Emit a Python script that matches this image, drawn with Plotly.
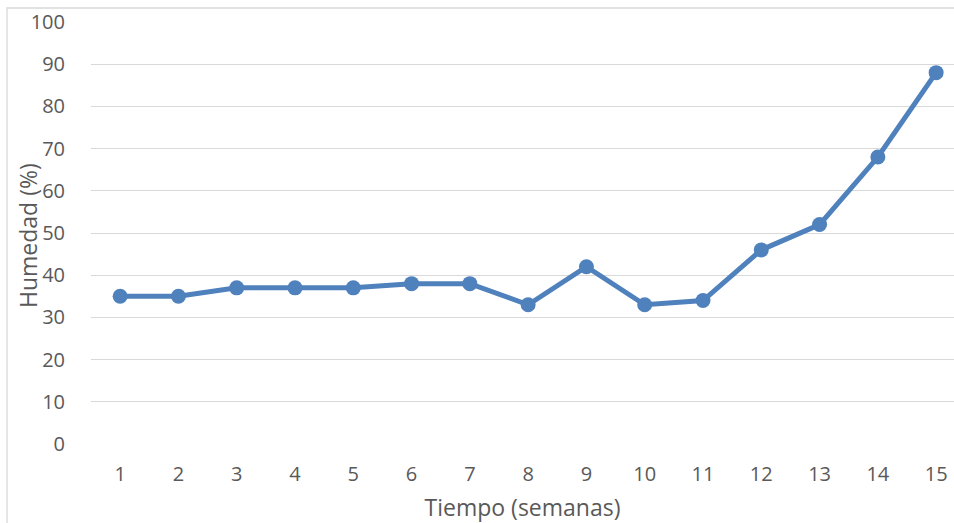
import plotly.graph_objects as go

semanas = list(range(1, 16))
humedad = [35, 35, 37, 37, 37, 38, 38, 33, 42, 33, 34, 46, 52, 68, 88]
y_ticks = list(range(0, 101, 10))

W, H = 954, 523
L, R, T, B = 91, 0, 22, 79

fig = go.Figure()
fig.add_trace(go.Scatter(
    x=semanas, y=humedad, mode="lines+markers",
    line=dict(color="#4F81BD", width=5),
    marker=dict(color="#4F81BD", size=15),
    showlegend=False, cliponaxis=False,
))

font = dict(family="Open Sans, Liberation Sans, sans-serif", color="#595959", size=20)
pw = W - L - R
ph = H - T - B
fig.update_layout(
    width=W, height=H,
    margin=dict(l=L, r=R, t=T, b=B, pad=0),
    paper_bgcolor="white", plot_bgcolor="white",
    font=font,
    xaxis=dict(
        range=[0.5, 0.5 + pw / ((936 - 120) / 14)],
        tickmode="array", tickvals=semanas, ticktext=[str(s) for s in semanas],
        showgrid=False, zeroline=False, showline=False,
        ticks="", ticklabelstandoff=16,
        title=dict(text="Tiempo (semanas)", font=dict(size=23), standoff=14),
    ),
    yaxis=dict(
        range=[0, 100],
        tickmode="array", tickvals=y_ticks,
        showgrid=True, gridcolor="#D9D9D9", gridwidth=1.3,
        zeroline=False, showline=False, ticks="", ticklabelstandoff=25,
    ),
    annotations=[dict(
        text="Humedad (%)", textangle=-90, showarrow=False,
        xref="paper", yref="paper", x=(28 - L) / pw, y=(H - B - 236) / ph,
        xanchor="center", yanchor="middle",
        font=dict(size=23, color="#595959"),
    )],
    shapes=[dict(
        type="rect", xref="paper", yref="paper",
        x0=(7 - L) / pw, x1=1.2, y0=-0.5, y1=1 + (T - 8) / ph,
        line=dict(color="#D9D9D9", width=1.3), fillcolor="rgba(0,0,0,0)", layer="below",
    )],
)

fig.write_html("out.html")
